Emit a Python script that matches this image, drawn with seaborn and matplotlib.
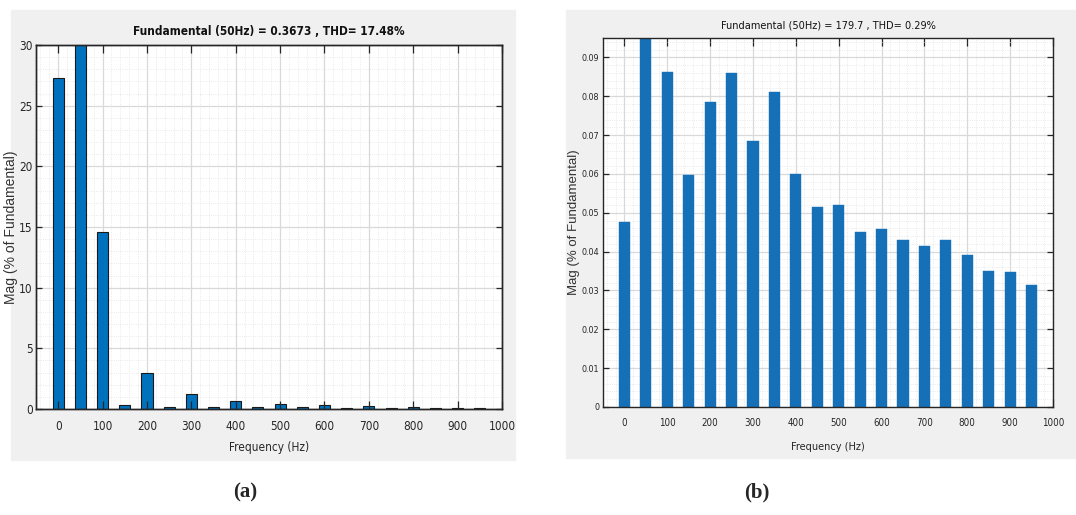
import numpy as np
import pandas as pd
import matplotlib
matplotlib.use("Agg")
import matplotlib.pyplot as plt
from matplotlib.patches import Rectangle
from matplotlib.ticker import MultipleLocator
import seaborn as sns

# ---------------- data ----------------
freq_hz = [0, 50, 100, 150, 200, 250, 300, 350, 400, 450,
           500, 550, 600, 650, 700, 750, 800, 850, 900, 950]
mag_a = [27.3, 100.0, 14.6, 0.30, 3.0, 0.15, 1.25, 0.15, 0.65, 0.20,
         0.38, 0.15, 0.32, 0.08, 0.28, 0.07, 0.20, 0.05, 0.10, 0.06]
mag_b = [0.0477, 100.0, 0.0862, 0.0597, 0.0785, 0.0860, 0.0685, 0.0811, 0.0601, 0.0516,
         0.0521, 0.0451, 0.0459, 0.0430, 0.0414, 0.0430, 0.0391, 0.0350, 0.0348, 0.0315]
title_a = "Fundamental (50Hz) = 0.3673 , THD= 17.48%"
title_b = "Fundamental (50Hz) = 179.7 , THD= 0.29%"
xlabel = "Frequency (Hz)"
ylabel = "Mag (% of Fundamental)"
panel_labels = ["(a)", "(b)"]
xticks = [0, 100, 200, 300, 400, 500, 600, 700, 800, 900, 1000]
yticks_b = [0, 0.01, 0.02, 0.03, 0.04, 0.05, 0.06, 0.07, 0.08, 0.09]
yticklabels_b = ["0", "0.01", "0.02", "0.03", "0.04", "0.05", "0.06", "0.07", "0.08", "0.09"]

sns.set_theme(style="white")
plt.rcParams['font.family'] = ['DejaVu Sans']
plt.rcParams['font.stretch'] = 'condensed'

W, H = 1076, 515
fig = plt.figure(figsize=(W / 100, H / 100), dpi=100)
fig.patch.set_facecolor("white")

# gray panel backgrounds (MATLAB figure look)
fig.patches.append(Rectangle((11 / W, 1 - 460 / H), 504 / W, 450 / H,
                             transform=fig.transFigure, color="#f0f0f0", zorder=-10))
fig.patches.append(Rectangle((566 / W, 1 - 458 / H), 510 / W, 448 / H,
                             transform=fig.transFigure, color="#f0f0f0", zorder=-10))

def px_rect(l, r, t, b):
    return [l / W, 1 - b / H, (r - l) / W, (b - t) / H]

ax_a = fig.add_axes(px_rect(36, 502, 45, 409), zorder=1)
ax_b = fig.add_axes(px_rect(603, 1053, 38, 407), zorder=1)

df_a = pd.DataFrame({"f": freq_hz, "m": mag_a})
df_b = pd.DataFrame({"f": freq_hz, "m": mag_b})

sns.barplot(data=df_a, x="f", y="m", native_scale=True, width=0.5,
            color="#0072BD", saturation=1, edgecolor="#1a1a1a", linewidth=0.8, ax=ax_a)
sns.barplot(data=df_b, x="f", y="m", native_scale=True, width=0.52,
            color="#1570b8", saturation=1, edgecolor="#1570b8", linewidth=0.3, ax=ax_b)

def style(ax, ylim, ymaj, ymin, xtsize, ytsize, ttl, tfs, tweight, lfs, ylfs,
          xlab_y, ylab_x, overlay):
    ax.set_facecolor("white")
    ax.set_xlim(-50, 1000)
    ax.set_ylim(*ylim)
    ax.set_xticks(xticks)
    ax.set_xticklabels([str(v) for v in xticks])
    ax.xaxis.set_minor_locator(MultipleLocator(20))
    ax.yaxis.set_major_locator(MultipleLocator(ymaj))
    ax.yaxis.set_minor_locator(MultipleLocator(ymin))
    ax.grid(which="major", color="#d9d9d9", linewidth=0.9, linestyle="-")
    ax.grid(which="minor", color="#e3e3e3", linewidth=0.6, linestyle=":")
    ax.set_axisbelow(True)
    tl = 0 if overlay else 6
    ax.tick_params(axis="x", which="major", direction="in", length=tl, width=0.9,
                   top=True, bottom=True, labelsize=xtsize, pad=8, colors="#262626")
    ax.tick_params(axis="y", which="major", direction="in", length=0 if overlay else 4,
                   width=0.9, left=True, right=True, labelsize=ytsize, pad=2.5,
                   colors="#262626")
    ax.tick_params(which="minor", length=0)
    for s in ax.spines.values():
        s.set_visible(True)
        s.set_color("#262626")
        s.set_linewidth(1.0)
    ax.set_title(ttl, fontsize=tfs, fontweight=tweight, pad=7, color="#111111")
    ax.set_xlabel(xlabel, fontsize=lfs, color="#262626")
    ax.set_ylabel(ylabel, fontsize=ylfs, color="#333333",
                  family=["Liberation Sans", "DejaVu Sans"], fontstretch="normal")
    ax.xaxis.set_label_coords(0.5, xlab_y)
    ax.yaxis.set_label_coords(ylab_x, 0.5)
    if overlay:
        # transparent overlay so tick marks sit on top of the bars (MATLAB style)
        ov = fig.add_axes(ax.get_position(), zorder=3, sharex=ax, sharey=ax)
        ov.patch.set_visible(False)
        ov.grid(False)
        ov.tick_params(axis="x", which="major", direction="in", length=6, width=0.9,
                       top=True, bottom=True, labelbottom=False, colors="#262626")
        ov.tick_params(axis="y", which="major", direction="in", length=4, width=0.9,
                       left=True, right=True, labelleft=False, colors="#262626")
        ov.tick_params(which="minor", length=0)
        for s in ov.spines.values():
            s.set_visible(True)
            s.set_color("#262626")
            s.set_linewidth(1.0)

style(ax_a, (0, 30), 5, 1, 8.5, 8.5, title_a, 8.5, "bold", 8.5, 10,
      -0.088, -0.0386, True)
style(ax_b, (0, 0.095), 0.01, 0.002, 7, 6.5, title_b, 7.8, "normal", 7.8, 9.5,
      -0.095, -0.051, False)
ax_b.set_yticks(yticks_b)
ax_b.set_yticklabels(yticklabels_b)
ax_b.yaxis.set_minor_locator(MultipleLocator(0.002))

fig.text(245 / W, 1 - 492 / H, panel_labels[0], fontsize=15, fontweight="bold",
         family=["Liberation Serif", "DejaVu Serif"], fontstretch="normal",
         ha="center", va="center")
fig.text(757 / W, 1 - 492 / H, panel_labels[1], fontsize=15, fontweight="bold",
         family=["Liberation Serif", "DejaVu Serif"], fontstretch="normal",
         ha="center", va="center")

fig.savefig("out.png", dpi=100)
